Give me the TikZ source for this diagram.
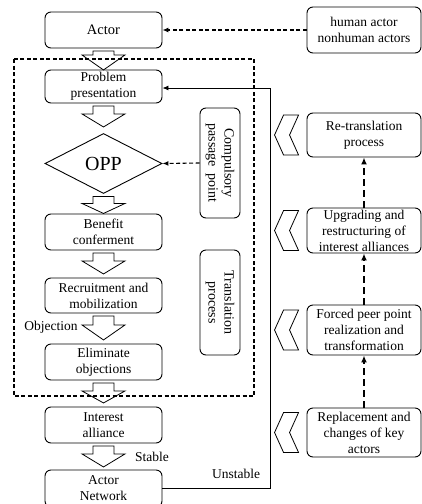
\documentclass[tikz,border=0pt]{standalone}
\usepackage{fontspec}
\setmainfont{Liberation Serif}
\usetikzlibrary{shapes.geometric,arrows.meta}
\tikzset{
  box/.style={draw,rounded corners=6pt,line width=0.9pt,minimum width=117pt,inner sep=1pt,align=center,font=\fontsize{13.5}{16}\selectfont},
  rbox/.style={draw,rounded corners=6pt,line width=0.9pt,minimum width=114pt,inner sep=1pt,align=center,font=\fontsize{13.5}{16}\selectfont},
  vbox/.style={draw,rounded corners=6pt,line width=0.9pt,minimum height=40pt,inner sep=1pt,align=center,rotate=-90,font=\fontsize{14}{16}\selectfont},
  hollow/.style={draw,line width=0.8pt,fill=none},
  thindash/.style={dashed,line width=1.1pt,dash pattern=on 4pt off 2.5pt,-{Latex[length=6pt,width=5pt]}},
  thickdash/.style={line width=2pt,dash pattern=on 7pt off 4pt,-{Latex[length=7pt,width=6pt]}},
  lbl/.style={font=\fontsize{13.5}{16}\selectfont,inner sep=0pt}
}
\newcommand\blockarr[3]{% node, shaft length, head length
  \draw[hollow] ([xshift=-10.5pt,yshift=-2.5pt]#1.south) -- ++(0,#2) -- ++(-11,0) -- ++(21.5,#3) -- ++(21.5,-#3) -- ++(-11,0) -- ++(0,-#2) -- cycle;}
\newcommand\chev[1]{%
  \draw[hollow] ([xshift=-23pt,yshift=20pt]#1.west) -- ++(-9,20) -- ++(9,20) -- ++(15,0) -- ++(-9,-20) -- ++(9,-20) -- cycle;}
\begin{document}
\begin{tikzpicture}[x=1pt,y=-1pt]
\useasboundingbox (0,0) rectangle (422,504);
% dashed frame
\draw[dashed,line width=1.1pt,dash pattern=on 4pt off 2.5pt] (14,59) rectangle (254,396);
% left column
\node[box,minimum height=36pt,font=\fontsize{14.5}{16}\selectfont] (actor) at (103.5,30) {Actor};
\node[box,minimum height=33pt] (prob) at (103.5,86.5) {Problem\\presentation};
\node[draw,diamond,line width=0.9pt,minimum width=117pt,minimum height=60pt,inner sep=0pt,aspect=2,font=\fontsize{20}{22}\selectfont] (opp) at (103.5,163.5) {OPP};
\node[box,minimum height=36pt] (ben) at (103.5,232) {Benefit\\conferment};
\node[box,minimum height=35pt] (rec) at (103.5,295.5) {Recruitment and\\mobilization};
\node[box,minimum height=36pt] (eli) at (103.5,362) {Eliminate\\objections};
\node[box,minimum height=36pt] (int) at (103.5,425) {Interest\\alliance};
\node[box,minimum height=37pt] (net) at (103.5,488.5) {Actor\\Network};
% block arrows
\blockarr{actor}{4}{15}
\blockarr{prob}{8}{13}
\blockarr{opp}{7}{10}
\blockarr{ben}{8}{13}
\blockarr{rec}{9}{15}
\blockarr{eli}{8}{12}
\blockarr{int}{8}{13}
% labels
\node[lbl] (objl) at (51,327) {Objection};
\node[lbl] (stab) at (152,457) {Stable};
\node[lbl] (unst) at (236,474) {Unstable};
% vertical boxes
\node[vbox,minimum width=110pt] (cpp) at (220,163) {Compulsory\\passage~~point};
\node[vbox,minimum width=105pt] (tra) at (220,302.5) {Translation\\process};
\draw[thindash] (cpp.south) -- (opp.east);
% feedback line
\coordinate (fb) at (270,88);
\draw[line width=0.9pt,-{Latex[length=6pt,width=5pt]}] (net.east) -| (fb) -- (prob.east |- fb);
% right column
\node[rbox,minimum height=46pt] (hum) at (364,30) {human actor\\nonhuman actors};
\node[rbox,minimum height=44pt] (re) at (364,135) {Re-translation\\process};
\node[rbox,minimum height=45pt] (up) at (364,230.5) {Upgrading and\\restructuring of\\interest alliances};
\node[rbox,minimum height=50pt] (fo) at (364,330) {Forced peer point\\realization and\\transformation};
\node[rbox,minimum height=49pt] (rep) at (364,432.5) {Replacement and\\changes of key\\actors};
\draw[thindash] (hum.west) -- (actor.east |- hum.west);
\draw[thickdash] (up.north) -- (re.south);
\draw[thickdash] (fo.north) -- (up.south);
\draw[thickdash] (rep.north) -- (fo.south);
\chev{re}
\chev{up}
\chev{fo}
\chev{rep}
\end{tikzpicture}
\end{document}
